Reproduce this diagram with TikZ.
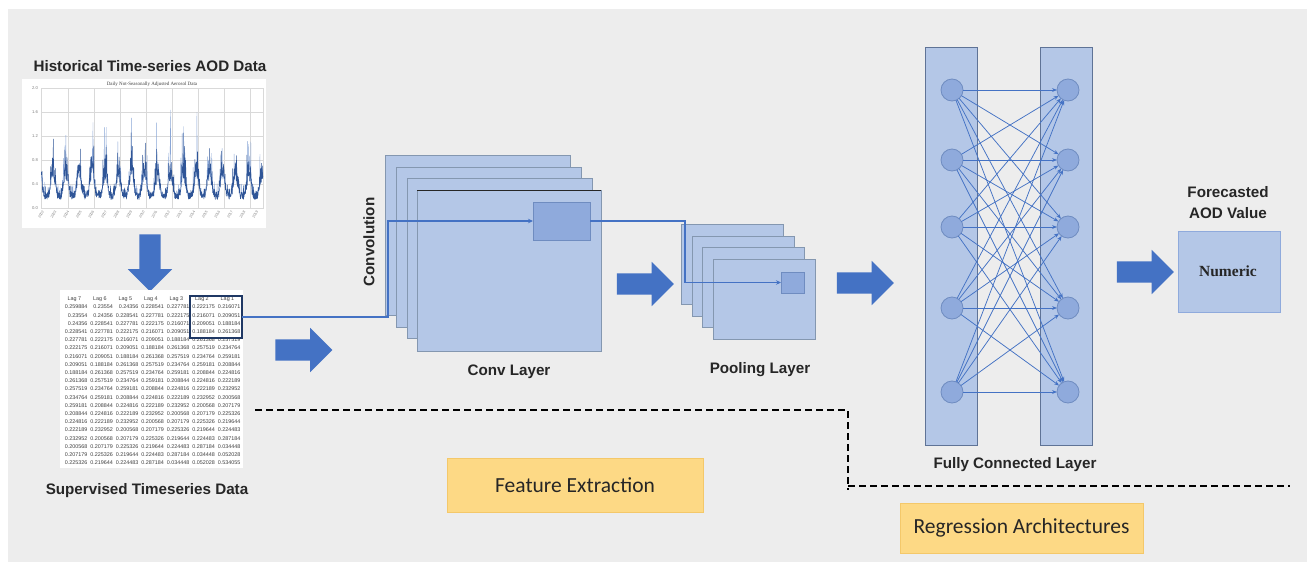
\documentclass[tikz,border=0pt]{standalone}
\usepackage{fontspec}
\setmainfont{Liberation Sans}
\newfontfamily\calibrifont{Carlito}
\newfontfamily\serifont{Liberation Serif}
\usetikzlibrary{arrows.meta,shapes.arrows}

\definecolor{bggray}{HTML}{EDEDED}
\definecolor{layerfill}{HTML}{B4C7E7}
\definecolor{layeredge}{HTML}{8497B0}
\definecolor{kernfill}{HTML}{8FAADC}
\definecolor{kernedge}{HTML}{6F8CC0}
\definecolor{flowblue}{HTML}{4472C4}
\definecolor{navy}{HTML}{1F3864}
\definecolor{tagfill}{HTML}{FDD985}
\definecolor{tagedge}{HTML}{F4C86A}
\definecolor{inkgray}{HTML}{262626}
\definecolor{darkseries}{HTML}{2F5597}
\definecolor{lightseries}{HTML}{8AA6D6}
\definecolor{gridgray}{HTML}{D9D9D9}
\definecolor{fcedge}{HTML}{5F7396}
\definecolor{cellgray}{HTML}{404040}

\begin{document}
\begin{tikzpicture}[x=1pt,y=-1pt,
  declare function={season(\s)=((1+cos(6120*\s+30))/2)^2;},
  every node/.style={inner sep=0pt,outer sep=0pt},
  lbl/.style={font=\bfseries\fontsize{15.2}{17}\selectfont, text=inkgray},
  sheet/.style={draw=layeredge, fill=layerfill, line width=0.8pt, anchor=north west},
  kernel/.style={draw=kernedge, fill=kernfill, line width=0.8pt, anchor=north west},
  blockarrow/.style={single arrow, fill=flowblue, draw=none, inner xsep=0pt,
    inner ysep=10.5pt, single arrow head extend=11.5pt, single arrow tip angle=90,
    minimum height=57pt},
  neuron/.style={circle, minimum size=22pt, fill=kernfill, draw=kernedge, line width=0.8pt},
  fccol/.style={draw=fcedge, fill=layerfill, line width=1pt, anchor=north west,
    minimum width=52pt, minimum height=398pt},
  link/.style={draw=flowblue, line width=0.75pt, -{Stealth[length=5pt,width=3.8pt]}},
  flow/.style={draw=flowblue, line width=1.3pt, -{Stealth[length=5pt,width=4.5pt]}},
  dashline/.style={draw=black, line width=2.2pt, dash pattern=on 7pt off 4pt},
  tagbox/.style={fill=tagfill, draw=tagedge, line width=0.6pt,
    font=\calibrifont\fontsize{21.5}{24}\selectfont, text=inkgray},
  cell/.style={anchor=east, font=\fontsize{5.4}{6}\selectfont, text=cellgray},
]
\useasboundingbox (0,0) rectangle (1307,562);
\fill[bggray] (8,9) rectangle (1307,562);

% ---------- historical series chart ----------
\node[lbl] (histtitle) at (150,66) {Historical Time-series AOD Data};
\node[fill=white, anchor=north west, minimum width=244pt, minimum height=149pt] (chart) at (22,79) {};
\node[font=\serifont\fontsize{5}{6}\selectfont, text=cellgray] (charttitle) at (152,84)
  {Daily Not-Seasonally Adjusted Aerosol Data};
\foreach \v [count=\k from 0] in {0.0,0.4,0.8,1.2,1.6,2.0}{
  \draw[gridgray, line width=0.4pt] (41,{208-24*\k}) -- (263,{208-24*\k});
  \node[anchor=east, font=\fontsize{4.2}{5}\selectfont, text=gray] at (38,{208-24*\k}) {\v};
}
\foreach \k in {1,...,8}{
  \draw[gridgray, line width=0.4pt] ({42+26*\k},88) -- ({42+26*\k},208);
}
\draw[gridgray, line width=0.5pt] (41,88) rectangle (263,208);
\foreach \yr [count=\k from 0] in {2002,...,2019}{
  \node[rotate=60, anchor=east, font=\fontsize{3.6}{4}\selectfont, text=gray] at ({43+12.6*\k},211) {\yr};
}
\begin{scope}
  \clip (41,88) rectangle (263,208);
  \pgfmathsetseed{4242}
  \draw[lightseries, line width=0.35pt, line join=round]
    plot[domain=0:1, samples=700, variable=\t]
    ({41+222*\t}, {208-60*(0.18+0.3*season(\t)+0.15*rnd*(0.4+season(\t))+0.85*pow(rnd,12)*(0.25+season(\t)))});
  \draw[darkseries, line width=0.5pt, line join=round]
    plot[domain=0:1, samples=1100, variable=\t]
    ({41+222*\t}, {208-60*(0.14+0.3*season(\t)+0.24*rnd*(0.5+season(\t))+0.45*pow(rnd,9)*(0.3+season(\t)))});
\end{scope}

% ---------- down arrow to the lag table ----------
\node[blockarrow, rotate=-90] (downarrow) at (150,257.5) {};

% ---------- supervised lag table ----------
\node[fill=white, anchor=north west, minimum width=183pt, minimum height=178pt] (table) at (60,290) {};
\foreach \c in {0,...,6}{
  \pgfmathtruncatemacro{\lagno}{7-\c}
  \node[font=\fontsize{5.4}{6}\selectfont, text=cellgray] at ({74.5+25.5*\c},299) {Lag \lagno};
}
\def\aodlags{{"0.259884","0.23554","0.24356","0.228541","0.227781","0.222175","0.216071",
  "0.209051","0.188184","0.261368","0.257519","0.234764","0.259181","0.208844","0.224816",
  "0.222189","0.232952","0.200568","0.207179","0.225326","0.219644","0.224483","0.287184",
  "0.034448","0.052028","0.534055"}}
\foreach \r in {0,...,19}{
  \foreach \c in {0,...,6}{
    \pgfmathsetmacro{\cellval}{\aodlags[\r+\c]}
    \node[cell] at ({87.5+25.5*\c},{307+8.2*\r}) {\cellval};
  }
}
\node[draw=navy, line width=1.8pt, minimum width=52pt, minimum height=42pt] (hl) at (216,317) {};
\node[lbl] (suptitle) at (147,491) {Supervised Timeseries Data};

% ---------- convolution layer ----------
\node[blockarrow] (arrowA) at (298.5,350) {};
\node[sheet, minimum width=185pt, minimum height=160pt] (c1) at (385,155) {};
\node[sheet, minimum width=185pt, minimum height=160pt] (c2) at (396,167) {};
\node[sheet, minimum width=185pt, minimum height=160pt] (c3) at (407,178) {};
\node[sheet, minimum width=184pt, minimum height=161pt] (c4) at (417,190) {};
\draw[inkgray, line width=0.9pt] (c4.north west) -- (c4.north east);
\node[kernel, minimum width=57pt, minimum height=38pt] (k1) at (533,202) {};
\node[lbl, rotate=90] (convlbl) at (369,242) {Convolution};
\node[lbl] (convname) at (509,372) {Conv Layer};
\coordinate (bendA) at (388,0);
\draw[flow] (hl.east) -- (hl.east -| bendA) |- (k1.west);

% ---------- pooling layer ----------
\node[blockarrow] (arrowB) at (640,284) {};
\node[sheet, minimum width=102pt, minimum height=80pt] (p1) at (681,224) {};
\node[sheet, minimum width=102pt, minimum height=80pt] (p2) at (692,236) {};
\node[sheet, minimum width=102pt, minimum height=80pt] (p3) at (702,247) {};
\node[sheet, minimum width=102pt, minimum height=80pt] (p4) at (713,259) {};
\node[kernel, minimum width=23pt, minimum height=21pt] (k2) at (781,272) {};
\coordinate (bendB) at (685,0);
\draw[flow] (k1.east) -- (k1.east -| bendB) |- (k2.west);
\node[lbl] (poolname) at (760,370) {Pooling Layer};

% ---------- fully connected layer ----------
\node[blockarrow] (arrowC) at (860,283) {};
\node[fccol] (colL) at (925,47) {};
\node[fccol] (colR) at (1040,47) {};
\foreach \y [count=\i] in {90,160,227,308,392}{
  \node[neuron] (l\i) at (952,\y) {};
  \node[neuron] (r\i) at (1068,\y) {};
}
\foreach \i in {1,...,5}{
  \foreach \j in {1,...,5}{
    \draw[link] (l\i) -- (r\j);
  }
}
\node[lbl] (fcname) at (1015,465) {Fully Connected Layer};

% ---------- forecast output ----------
\node[blockarrow] (arrowD) at (1140,272) {};
\node[draw=kernfill, fill=layerfill, line width=0.8pt, minimum width=102pt, minimum height=81pt] (out) at (1229,271.5) {};
\node[font=\serifont\bfseries\fontsize{15.5}{17}\selectfont, text=inkgray] (numeric) at (1228,271) {Numeric};
\node[lbl, align=center, font=\bfseries\fontsize{15.2}{21}\selectfont] (outtitle) at (1228,203) {Forecasted\\AOD Value};

% ---------- stage boundaries ----------
\coordinate (fe1) at (255,410);
\coordinate (fe2) at (848,410);
\coordinate (fe3) at (848,490);
\coordinate (ra1) at (848,486);
\coordinate (ra2) at (1290,486);
\draw[dashline] (fe1) -- (fe2) -- (fe3);
\draw[dashline] (ra1) -- (ra2);

\node[tagbox, minimum width=256pt, minimum height=54pt] (feat) at (575,485) {Feature Extraction};
\node[tagbox, minimum width=243pt, minimum height=50pt] (regr) at (1021.5,528) {Regression Architectures};
\end{tikzpicture}
\end{document}
